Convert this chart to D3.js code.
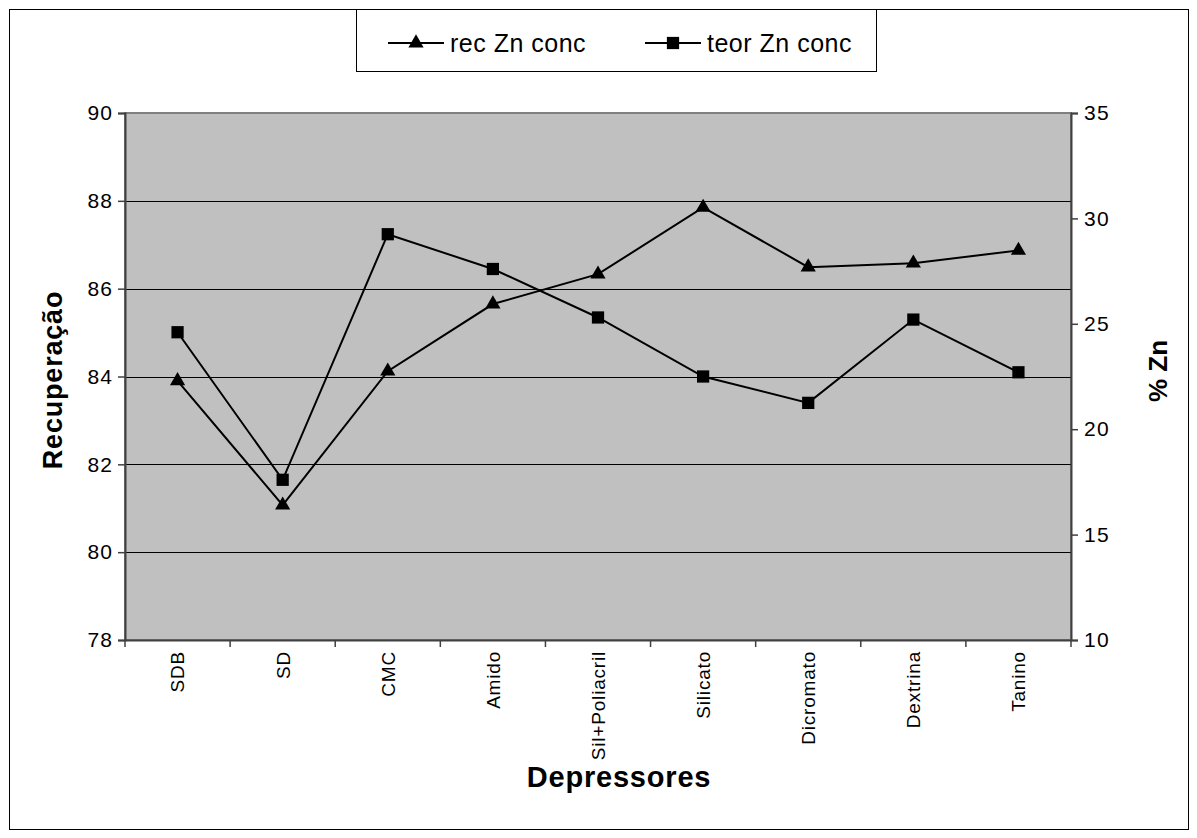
<!DOCTYPE html>
<html>
<head>
<meta charset="utf-8">
<script src="https://cdn.jsdelivr.net/npm/d3@7"></script>
<style>
  html, body { margin: 0; padding: 0; background: #fff; }
  svg { display: block; font-family: "Liberation Sans", Arial, sans-serif; }
</style>
</head>
<body>
<svg id="chart" width="1197" height="838"></svg>
<script>
// ---- data ----
const categories = ["SDB", "SD", "CMC", "Amido", "Sil+Poliacril", "Silicato", "Dicromato", "Dextrina", "Tanino"];
const recZnConc = [83.9, 81.07, 84.12, 85.65, 86.33, 87.85, 86.49, 86.58, 86.87];
const teorZnConc = [24.6, 17.6, 29.25, 27.6, 25.3, 22.5, 21.25, 25.2, 22.7];
const leftTicks = [78, 80, 82, 84, 86, 88, 90];
const rightTicks = [10, 15, 20, 25, 30, 35];
const seriesNames = ["rec Zn conc", "teor Zn conc"];
const xTitle = "Depressores";
const yLeftTitle = "Recuperação";
const yRightTitle = "% Zn";

// ---- layout ----
const W = 1197, H = 838;
const plot = { left: 125, right: 1071, top: 113, bottom: 640 };
const svg = d3.select("#chart");

svg.append("rect").attr("x", 0).attr("y", 0).attr("width", W).attr("height", H).attr("fill", "#fff");
svg.append("rect").attr("x", 9.5).attr("y", 9.5).attr("width", 1179).attr("height", 820)
  .attr("fill", "none").attr("stroke", "#000").attr("stroke-width", 1);

const x = d3.scaleBand().domain(categories).range([plot.left, plot.right]).padding(0);
const yL = d3.scaleLinear().domain([78, 90]).range([plot.bottom, plot.top]);
const yR = d3.scaleLinear().domain([10, 35]).range([plot.bottom, plot.top]);

// plot area
svg.append("rect").attr("x", plot.left).attr("y", plot.top)
  .attr("width", plot.right - plot.left).attr("height", plot.bottom - plot.top)
  .attr("fill", "#c0c0c0").attr("stroke", "#808080").attr("stroke-width", 2);

// gridlines
svg.append("g").selectAll("line").data(leftTicks.filter(d => d > 78 && d < 90)).join("line")
  .attr("x1", plot.left).attr("x2", plot.right)
  .attr("y1", d => Math.round(yL(d)) + 0.5).attr("y2", d => Math.round(yL(d)) + 0.5)
  .attr("stroke", "#000").attr("stroke-width", 1);

// axes
const tickFont = 21;
const gL = svg.append("g").attr("transform", `translate(${plot.left},0)`)
  .call(d3.axisLeft(yL).tickValues(leftTicks).tickSize(7).tickPadding(6));
const gR = svg.append("g").attr("transform", `translate(${plot.right},0)`)
  .call(d3.axisRight(yR).tickValues(rightTicks).tickSize(7).tickPadding(6));
const gX = svg.append("g").attr("transform", `translate(0,${plot.bottom})`)
  .call(d3.axisBottom(x).tickSize(0).tickFormat(d => d));

[gL, gR].forEach(g => {
  g.attr("font-size", tickFont);
  g.select(".domain").attr("stroke", "#404040").attr("stroke-width", 2);
  g.selectAll(".tick line").attr("stroke", "#404040").attr("stroke-width", 1.5);
  g.selectAll(".tick text").attr("font-size", tickFont).attr("fill", "#000")
    .attr("font-family", "Liberation Sans, Arial, sans-serif").style("letter-spacing", "1.2px");
});
gL.selectAll(".tick text").attr("dx", "1.2px");

gX.select(".domain").attr("stroke", "#404040").attr("stroke-width", 2);
// boundary ticks between categories
const bounds = categories.map(c => x(c)).concat([plot.right]);
gX.append("g").selectAll("line").data(bounds).join("line")
  .attr("x1", d => d).attr("x2", d => d).attr("y1", 0).attr("y2", 7)
  .attr("stroke", "#404040").attr("stroke-width", 1.5);
gX.attr("font-size", 19);
gX.selectAll(".tick text")
  .attr("font-size", 19).attr("fill", "#000")
  .attr("font-family", "Liberation Sans, Arial, sans-serif")
  .style("letter-spacing", "0.8px")
  .attr("text-anchor", "end")
  .attr("transform", "rotate(-90)")
  .attr("x", -11).attr("y", 0).attr("dy", "0.36em");

// series lines
const lineRec = d3.line().x((d, i) => x(categories[i]) + x.bandwidth() / 2).y(d => yL(d));
const lineTeor = d3.line().x((d, i) => x(categories[i]) + x.bandwidth() / 2).y(d => yR(d));
svg.append("path").attr("d", lineRec(recZnConc)).attr("fill", "none").attr("stroke", "#000").attr("stroke-width", 2);
svg.append("path").attr("d", lineTeor(teorZnConc)).attr("fill", "none").attr("stroke", "#000").attr("stroke-width", 2);

const tri = d3.symbol().type(d3.symbolTriangle).size(100);
const sq = d3.symbol().type(d3.symbolSquare).size(150);
svg.append("g").selectAll("path").data(recZnConc).join("path")
  .attr("d", tri).attr("fill", "#000")
  .attr("transform", (d, i) => `translate(${x(categories[i]) + x.bandwidth() / 2},${yL(d)})`);
svg.append("g").selectAll("path").data(teorZnConc).join("path")
  .attr("d", sq).attr("fill", "#000")
  .attr("transform", (d, i) => `translate(${x(categories[i]) + x.bandwidth() / 2},${yR(d)})`);

// titles
svg.append("text").text(xTitle).attr("x", 619).attr("y", 787)
  .attr("text-anchor", "middle").attr("font-size", 29).attr("font-weight", "bold")
  .style("letter-spacing", "0.8px");
svg.append("text").text(yLeftTitle)
  .attr("transform", "translate(62,380) rotate(-90)")
  .attr("text-anchor", "middle").attr("font-size", 27).attr("font-weight", "bold")
  .style("letter-spacing", "0.8px");
svg.append("text").text(yRightTitle)
  .attr("transform", "translate(1167,371) rotate(-90)")
  .attr("text-anchor", "middle").attr("font-size", 26).attr("font-weight", "bold");

// legend
const leg = svg.append("g");
leg.append("rect").attr("x", 356.5).attr("y", 9.5).attr("width", 520).attr("height", 62)
  .attr("fill", "#fff").attr("stroke", "#000").attr("stroke-width", 1);
const legItems = [
  { name: seriesNames[0], x0: 388, sym: tri },
  { name: seriesNames[1], x0: 645, sym: sq }
];
const legY = 43;
legItems.forEach(it => {
  leg.append("line").attr("x1", it.x0).attr("x2", it.x0 + 56).attr("y1", legY).attr("y2", legY)
    .attr("stroke", "#000").attr("stroke-width", 2);
  leg.append("path").attr("d", it.sym).attr("fill", "#000")
    .attr("transform", `translate(${it.x0 + 28},${legY})`);
  leg.append("text").text(it.name).attr("x", it.x0 + 62).attr("y", legY).attr("dy", "0.35em")
    .attr("font-size", 25).style("letter-spacing", "0.5px");
});
</script>
</body>
</html>
